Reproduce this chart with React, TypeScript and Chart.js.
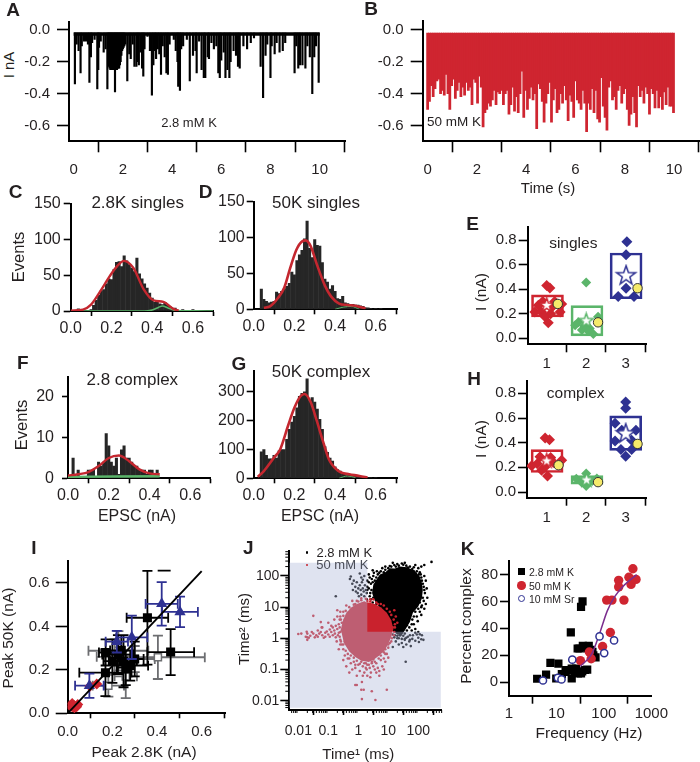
import React, { useEffect, useRef } from "react";
import { Chart, registerables } from "chart.js";

Chart.register(...registerables);

const FONT = "'Liberation Sans', Arial, sans-serif";
const INK = "#231f20";
const RED = "#cf2530";
const CURVE = "#c4272f";
const GREEN = "#5bb56a";
const BLUE = "#2e3192";
const GRAY = "#6d6e71";
const YELLOW = "#f6ea6a";

// ---------- A / B traces ----------
const traceTicksX = [0, 2, 4, 6, 8, 10];
const traceTicksY = [0, -0.2, -0.4, -0.6];
const lowKTimes = [0.05,0.12,0.2,0.28,0.33,0.42,0.5,0.58,0.64,0.7,0.75,0.85,0.96,1.0,1.03,1.1,1.22,1.3,1.37,1.4,1.43,1.46,1.49,1.52,1.55,1.58,1.61,1.64,1.68,1.7,1.73,1.76,1.79,1.82,1.85,1.88,1.91,1.94,1.97,2.0,2.03,2.06,2.1,2.18,2.26,2.32,2.4,2.47,2.55,2.6,2.65,2.72,2.78,2.83,2.88,3.0,3.1,3.18,3.24,3.3,3.35,3.42,3.48,3.55,3.62,3.7,3.77,3.83,3.9,4.0,4.07,4.15,4.22,4.25,4.32,4.37,4.45,4.6,4.72,4.85,4.95,5.0,5.1,5.2,5.29,5.35,5.45,5.5,5.6,5.7,5.8,5.88,5.94,6.0,6.1,6.17,6.25,6.33,6.38,6.5,6.6,6.68,6.75,6.9,7.05,7.2,7.33,7.6,7.7,7.8,7.87,8.0,8.05,8.17,8.25,8.37,8.5,8.6,8.98,9.05,9.13,9.2,9.3,9.42,9.5,9.6,9.7,9.78,9.85,9.96];
const lowKAmps = [-0.34,-0.09,-0.13,-0.27,-0.1,-0.07,-0.07,-0.09,-0.33,-0.17,-0.08,-0.06,-0.37,-0.25,-0.11,-0.07,-0.14,-0.12,-0.37,-0.2,-0.23,-0.24,-0.25,-0.25,-0.25,-0.25,-0.25,-0.25,-0.39,-0.25,-0.25,-0.25,-0.24,-0.24,-0.24,-0.22,-0.2,-0.16,-0.13,-0.12,-0.11,-0.1,-0.09,-0.32,-0.15,-0.18,-0.09,-0.23,-0.23,-0.2,-0.22,-0.14,-0.24,-0.29,-0.12,-0.04,-0.13,-0.41,-0.22,-0.13,-0.18,-0.12,-0.15,-0.28,-0.1,-0.17,-0.27,-0.28,-0.09,-0.03,-0.06,-0.13,-0.2,-0.355,-0.38,-0.12,-0.1,-0.06,-0.32,-0.16,-0.13,-0.27,-0.07,-0.25,-0.3,-0.3,-0.17,-0.18,-0.08,-0.12,-0.1,-0.27,-0.3,-0.19,-0.14,-0.3,-0.25,-0.3,-0.2,-0.13,-0.16,-0.23,-0.24,-0.1,-0.12,-0.08,-0.05,-0.23,-0.425,-0.16,-0.09,-0.3,-0.1,-0.15,-0.08,-0.14,-0.13,-0.08,-0.27,-0.1,-0.24,-0.22,-0.22,-0.24,-0.1,-0.17,-0.4,-0.17,-0.1,-0.33];
const HIGH_K_STEP = 0.075;
const highKAmps = [
  -0.5,-0.45,-0.35,-0.42,-0.37,-0.32,-0.31,-0.4,-0.38,-0.41,
  -0.28,-0.4,-0.5,-0.35,-0.31,-0.43,-0.38,-0.33,-0.42,-0.36,
  -0.41,-0.33,-0.38,-0.36,-0.47,-0.31,-0.33,-0.46,-0.29,-0.36,
  -0.61,-0.52,-0.5,-0.46,-0.48,-0.44,-0.38,-0.47,-0.39,-0.4,
  -0.38,-0.47,-0.4,-0.38,-0.53,-0.47,-0.36,-0.51,-0.42,-0.52,
  -0.4,-0.26,-0.55,-0.38,-0.5,-0.43,-0.36,-0.44,-0.4,-0.62,
  -0.34,-0.37,-0.45,-0.58,-0.46,-0.4,-0.33,-0.58,-0.44,-0.37,
  -0.52,-0.5,-0.4,-0.46,-0.35,-0.44,-0.57,-0.41,-0.45,-0.55,
  -0.32,-0.44,-0.46,-0.5,-0.38,-0.46,-0.64,-0.46,-0.5,-0.37,
  -0.52,-0.38,-0.56,-0.58,-0.3,-0.48,-0.55,-0.63,-0.36,-0.32,
  -0.44,-0.42,-0.5,-0.38,-0.35,-0.46,-0.4,-0.37,-0.5,-0.6,
  -0.53,-0.42,-0.52,-0.61,-0.35,-0.42,-0.38,-0.46,-0.36,-0.4,
  -0.53,-0.37,-0.4,-0.49,-0.38,-0.49,-0.42,-0.5,-0.39,-0.47,
  -0.36,-0.48,-0.48,-0.52,
];

// ---------- C D F G histograms ----------
const HIST_STEP = 0.0125;
const histTicksX = [0, 0.2, 0.4, 0.6];
const histC = [0,0,1,3,2,1,0,1,2,8,15,22,28,30,38,45,44,58,68,69,62,77,70,65,60,55,74,52,45,38,32,25,18,12,14,10,9,12,8,6,3,4,1,1,2,0,1,0,2,0,1];
const curveCx = [0,0.06,0.1,0.144,0.19,0.226,0.262,0.308,0.357,0.406,0.455,0.504,0.53];
const curveCy = [0.5,2,9,27,48,62,70,60,31,15,12.7,3,0.5];
const greenCx = [0,0.36,0.4,0.43,0.45,0.48,0.52,0.6,0.7];
const greenCy = [0,0,1.5,5,7,4,0.5,0.2,0];
const histD = [0,0,0,28,14,11,9,10,11,24,22,25,28,32,36,52,48,68,76,82,98,123,85,72,97,89,88,65,42,38,28,33,25,15,14,18,9,8,7,7,6,6,5,4,2,2,1,0,1,0,1];
const curveDx = [0.05,0.08,0.12,0.15,0.18,0.21,0.24,0.255,0.28,0.31,0.35,0.38,0.42,0.46,0.5,0.55];
const curveDy = [2,4,16,30,58,83,95,96,88,63,33,18,8,6,5,1];
const greenDx = [0.4,0.44,0.48,0.52];
const greenDy = [0,3,4,0];
const histF = [0,0,5,0,2,0,0,0,2,2,2,0,4,3,4,11,8,4,3,5,1,7,8,5,5,4,3,3,2,2,2,1,2,2,1,2,0];
const curveFx = [0,0.05,0.1,0.15,0.2,0.25,0.3,0.35,0.4,0.45];
const curveFy = [0.7,1,1.5,3,5,5.6,4.2,2.2,1.2,1];
const greenFx = [0,0.45];
const greenFy = [0.35,0.5];
const histG = [0,0,0,92,100,80,68,68,80,70,95,100,100,135,170,195,215,245,285,295,300,345,270,280,265,240,205,170,110,90,70,60,40,30,25,18,15,14,12,10,9,8,6,4,3,2,2,0,1];
const curveGx = [0.02,0.05,0.1,0.13,0.17,0.2,0.23,0.25,0.28,0.31,0.34,0.37,0.4,0.43,0.47,0.52,0.56];
const curveGy = [5,25,72,100,185,245,285,293,265,200,130,65,35,20,14,8,2];
const greenGx = [0.42,0.46,0.5];
const greenGy = [0,8,3];

// ---------- E H groups ----------
type XY = { x: number; y: number };
const groupTicksX = [1, 2, 3];
const groupTicksY = [0, 0.2, 0.4, 0.6, 0.8];
const singlesRedX = [1,1.08,0.7,0.79,0.87,0.96,1.04,1.34,1.38,1.15,1.2,0.9,1.1];
const singlesRedY = [0.43,0.41,0.215,0.27,0.215,0.175,0.126,0.215,0.28,0.26,0.3,0.3,0.2];
const singlesGreenX = [2,1.72,1.89,2.09,2.18,2.3,1.95,2.05,1.8];
const singlesGreenY = [0.454,0.107,0.067,0.08,0.035,0.175,0.1,0.06,0.13];
const singlesBlueX = [3.03,3.01,3.01,2.81,3.21];
const singlesBlueY = [0.787,0.68,0.408,0.34,0.34];
const singlesBoxes = [[1.02,0.175,0.354],[2.02,0.02,0.266],[3.01,0.322,0.695]];
const singlesStars = [[1,0.268],[2,0.142],[3.01,0.51]];
const singlesYellow = [[1.28,0.28],[2.3,0.13],[3.3,0.408]];
const complexRedX = [0.96,1.07,0.62,0.76,0.83,0.87,1.02,1.17,1.38,1.3,0.95,1.1];
const complexRedY = [0.437,0.424,0.212,0.23,0.285,0.177,0.129,0.24,0.258,0.22,0.2,0.28];
const complexGreenX = [1.75,2,2.27,1.88,2,2.15];
const complexGreenY = [0.107,0.048,0.11,0.08,0.15,0.09];
const complexBlueX = [3,3,2.73,3.26,2.73,3.15,2.88,3.15,3,2.9];
const complexBlueY = [0.73,0.68,0.558,0.5,0.413,0.42,0.344,0.344,0.29,0.5];
const complexBoxes = [[1.01,0.158,0.344],[2.02,0.064,0.134],[3,0.338,0.617]];
const complexStars = [[1,0.252],[2.01,0.097],[3,0.472]];
const complexYellow = [[1.3,0.217],[2.3,0.08],[3.3,0.39]];

// ---------- I ----------
const peakTicks = [0, 0.2, 0.4, 0.6];
const unityX = [0, 0.6];
const unityY = [0, 0.655];
const blackPeaks = [[0.357,0.44,0.093,0.216],[0.461,0.282,0.105,0.106],[0.169,0.187,0.117,0.108],[0.225,0.27,0.07,0.09],[0.25,0.24,0.06,0.12],[0.28,0.22,0.08,0.07],[0.24,0.29,0.05,0.07],[0.26,0.21,0.04,0.08],[0.17,0.28,0.03,0.06],[0.3,0.25,0.04,0.08],[0.2,0.24,0.04,0.1]];
const grayPeaks = [[0.404,0.258,0.21,0.1],[0.227,0.288,0.134,0.09],[0.182,0.127,0.07,0.05],[0.26,0.17,0.05,0.1],[0.21,0.26,0.08,0.08],[0.3,0.25,0.09,0.06]];
const bluePeaks = [[0.421,0.504,0.072,0.1],[0.503,0.467,0.08,0.07],[0.287,0.35,0.07,0.1],[0.097,0.127,0.064,0.056],[0.22,0.33,0.05,0.05]];
const redPeaksX = [0.01,0.02,0.03,0.04,0.045,0.02,0.1,0.13,0.03];
const redPeaksY = [0.035,0.03,0.035,0.03,0.04,0.045,0.124,0.135,0.025];
const strayCapX = [0.403, 0.461];
const strayCapY = [0.657, 0.657];

// ---------- J (values as log10 of ms) ----------
const logTicks = [0.01, 0.1, 1, 10, 100];
const shadeLog = [[-2.3,-2.23],[2.75,-2.23],[2.75,0.21],[0.3,0.21],[0.3,2.42],[-2.3,2.42]];
const blackCoreLog = [[1.39,2.3],[1.22,2.24],[1.05,2.25],[0.9,2.12],[0.72,2.05],[0.58,1.85],[0.5,1.72],[0.46,1.45],[0.55,1.2],[0.66,1.05],[0.8,0.8],[0.95,0.55],[1.05,0.38],[1.18,0.2],[1.3,0.12],[1.45,0.1],[1.58,0.3],[1.72,0.52],[1.82,0.82],[2.0,1.02],[2.12,1.28],[2.15,1.55],[2.12,1.78],[2.04,2.0],[1.85,2.18],[1.62,2.28]];
const redCoreLog = [[-0.58,0.28],[-0.52,0.55],[-0.42,0.78],[-0.25,0.98],[-0.05,1.1],[0.15,1.17],[0.35,1.15],[0.55,1.1],[0.75,1.0],[0.95,0.82],[1.1,0.58],[1.17,0.3],[1.1,0.05],[1.0,-0.18],[0.88,-0.38],[0.7,-0.55],[0.52,-0.68],[0.35,-0.76],[0.1,-0.72],[-0.1,-0.6],[-0.3,-0.42],[-0.48,-0.15]];
const blackFringeLog = [[0.9,2.2],[1.0,2.25],[1.1,2.3],[1.2,2.35],[1.3,2.38],[1.45,2.4],[1.5,2.36],[1.6,2.33],[1.72,2.3],[1.85,2.28],[2.0,2.25],[2.1,2.3],[2.2,2.35],[2.44,2.45],[0.85,2.12],[0.7,2.1],[0.62,2.15],[0.8,2.25],[1.95,2.15],[2.08,2.05],[2.2,2.0],[2.25,1.85],[2.15,1.75],[2.28,1.6],[2.22,1.45],[2.3,1.3],[2.18,1.2],[2.25,1.1],[2.12,1.05],[2.2,0.95],[2.05,0.85],[2.1,0.75],[1.95,0.7],[1.98,0.55],[1.85,0.45],[1.9,0.3],[1.78,0.25],[1.72,0.1],[1.82,0.1],[2.05,0.13],[1.6,0.02],[1.5,0.08],[1.45,-0.02],[1.35,0.0],[1.2,0.03],[1.15,0.12],[1.05,0.25],[0.95,0.42],[0.9,0.6],[0.78,0.72],[0.7,0.95],[0.62,1.0],[0.55,1.02],[0.48,1.15],[0.42,1.25],[0.4,1.45],[0.35,1.6],[0.42,1.75],[0.45,1.9],[0.5,2.0],[0.55,1.85],[-0.28,1.9],[-0.25,1.98],[-0.2,1.75],[-0.15,1.85],[-0.1,1.65],[-0.08,1.5],[-0.02,1.45],[0.0,1.6],[0.05,1.7],[0.08,1.55],[0.1,1.4],[0.12,1.8],[0.15,1.6],[0.18,1.5],[0.2,1.35],[0.22,1.7],[0.25,1.55],[0.28,1.45],[0.3,1.85],[0.3,1.65],[0.28,1.25],[0.05,2.08],[0.1,1.95],[0.2,2.0],[-0.75,1.35],[1.25,-0.1],[1.3,0.0],[1.4,0.1],[1.45,-0.15],[1.5,-0.28],[1.55,-0.05],[1.6,-0.2],[1.65,0.05],[1.7,-0.1],[1.75,-0.25],[1.8,-0.02],[1.9,-0.08],[1.95,0.12],[2.0,0.02],[2.1,-0.03],[2.17,-0.05],[1.58,-0.75],[1.15,-0.28],[1.35,-0.2],
  [0.75,2.15],[0.9,2.3],[1.05,2.32],[1.15,2.42],[1.25,2.3],[1.35,2.33],[1.55,2.42],[1.65,2.27],[1.8,2.22],[1.9,2.35],[2.05,2.12],[1.85,2.15],[0.65,2.05],[0.6,1.95],[0.52,2.1],[0.38,1.95],[0.35,1.8],[0.48,1.8],[0.3,1.55],[0.44,1.55],[0.38,1.35],[0.5,1.3],[0.45,1.05],[0.55,0.92],[0.65,0.85],[0.72,0.75],[0.6,1.1],[0.82,0.6],[0.88,0.48],[0.98,0.33],[1.08,0.18],[1.12,0.28],[1.22,0.1],[1.3,0.08],[1.38,0.1],[1.55,0.15],[1.62,0.25],[1.7,0.35],[1.62,0.42],[1.78,0.45],[1.8,0.6],[1.85,0.7],[1.9,0.85],[2.0,0.95],[2.1,1.0],[2.05,1.15],[2.15,1.3],[2.2,1.55],[2.18,1.65],[2.12,1.85],[2.1,1.95],[2.02,2.05],[1.92,2.08],[1.55,-0.02],[1.72,-0.05],[2.02,-0.12],[2.12,0.1],[2.0,0.2],[1.9,0.18],[-0.05,1.8],[-0.18,1.55],[0.02,1.35],[0.15,1.88],[0.35,2.05],[0.48,2.18]];
const redFringeLog = [[0.0,1.18],[0.1,1.22],[0.2,1.15],[0.3,1.2],[0.4,1.18],[0.5,1.25],[0.65,1.1],[-0.1,1.1],[-0.2,1.2],[-0.5,0.85],[-0.6,0.7],[-0.7,0.9],[-0.45,0.6],[-0.55,0.5],[-0.65,0.45],[-0.75,0.4],[-0.8,0.25],[-0.9,0.2],[-1.0,0.12],[-1.1,0.18],[-1.2,0.1],[-1.3,0.15],[-1.4,0.1],[-1.5,0.15],[-1.6,0.08],[-1.7,0.15],[-1.75,0.05],[-1.65,0.02],[-1.55,0.2],[-1.45,0.03],[-1.35,0.05],[-1.25,0.2],[-1.15,0.02],[-1.05,0.22],[-0.95,0.05],[-0.85,0.1],[-0.75,0.03],[-0.65,0.18],[-0.55,0.25],[-0.9,0.4],[-1.0,0.5],[-1.2,0.35],[-1.25,0.52],[-0.8,0.6],[-0.7,0.7],[-0.72,-0.1],[-0.6,-0.05],[-0.55,-0.2],[-0.5,-0.35],[-0.45,-0.1],[-2.0,0.14],[-1.9,0.15],[-1.7,-0.05],[-1.5,0.72],[-1.72,0.21],[-1.7,0.03],[-1.22,0.35],[1.2,0.9],[1.25,0.7],[1.3,0.5],[1.15,0.35],[1.2,0.2],[1.05,0.1],[1.1,-0.1],[1.0,-0.3],[-0.5,-0.7],[-0.4,-0.9],[-0.35,-0.65],[-0.3,-1.1],[-0.25,-0.8],[-0.2,-1.0],[-0.15,-0.75],[-0.1,-0.95],[-0.05,-1.2],[0,-0.85],[0.05,-1.05],[0.1,-0.75],[0.12,-1.4],[0.15,-0.9],[0.2,-1.1],[0.25,-0.8],[0.28,-1.0],[0.3,-1.2],[0.35,-0.85],[0.38,-0.95],[0.42,-1.1],[0.45,-0.75],[0.5,-0.9],[0.55,-1.0],[0.6,-0.8],[0.65,-0.95],[0.7,-1.05],[0.75,-0.7],[0.8,-0.9],[0.85,-0.65],[0.9,-0.75],[0.95,-0.5],[1.0,-0.62],[0.1,-1.65],[0.18,-1.65],[0.45,-1.7],[0.95,-1.65],[0.12,-1.95],[0.57,-1.98],[-0.05,-1.5],[-0.1,-1.5],[0.4,-1.25],[0.7,-1.2],
  [-0.6,0.2],[-0.62,0.35],[-0.58,0.6],[-0.5,0.72],[-0.42,0.88],[-0.3,1.0],[-0.35,0.82],[-0.15,1.08],[-0.05,1.2],[0.1,1.28],[0.25,1.27],[0.4,1.25],[0.6,1.15],[0.75,1.1],[0.85,1.05],[0.95,0.95],[1.05,0.85],[1.1,0.75],[1.18,0.6],[1.22,0.45],[1.22,0.35],[1.18,0.1],[1.12,0.0],[1.05,-0.15],[1.0,-0.2],[0.9,-0.35],[0.85,-0.45],[0.75,-0.55],[0.68,-0.65],[0.55,-0.75],[0.45,-0.8],[0.3,-0.85],[0.2,-0.8],[0.05,-0.82],[-0.05,-0.72],[-0.15,-0.62],[-0.25,-0.55],[-0.35,-0.5],[-0.42,-0.4],[-0.5,-0.2],[-0.58,-0.1],[-0.62,0.05],[-0.68,0.1],[-0.7,0.3],[-0.6,-0.2],[-0.65,-0.35],[-0.45,-0.55],[-0.3,-0.65],[-0.1,-0.85],[0.5,-0.68],[0.9,-0.5],[0.25,-0.95],[0.6,-1.1],[0.15,-1.2],[0.85,-1.0],[-0.6,0.85],[-0.4,1.05],[-0.95,0.28],[-1.1,0.05],[-1.35,0.25],[-0.78,0.15],[-0.85,0.35],[-0.62,0.6]];

// ---------- K ----------
const freqTicks = [1, 10, 100, 1000];
const pctTicks = [0, 20, 40, 60, 80];
const lowKFreq = [3.92,6.05,7.46,11,9.9,15.6,18.1,21,24.4,28.4,33,44.5,20.1,33,35.5,30.6,38.3,48,57.4,66.7,21,13,16,26,35,40,28,36,45,52,60];
const lowKPct = [2.5,5.6,14.3,13.8,2.7,7.6,8.8,2.7,7.6,6.4,6.4,9.3,37,56,60,25,26,27,22.6,18.4,10,6,9,10,8,9,25,27,25,24,20];
const highKFreq = [32,49.4,54,94,137,114.5,148,265,205,205,337,374,409,476];
const highKPct = [16,22.4,17.4,26.5,36.9,61,61,61,75.7,70.8,78,72.7,84.3,76.4];
const srFreq = [5.2,10.7,12.8,21.6,81,101.6,164];
const srPct = [1.2,3.2,2,16.7,34,21.6,31];
const fitFreq = [32,55.7,81,118,172,250,490];
const fitPct = [11.8,21,36,53,64,71,80];

// ---------- page texts ----------
type Label = { t: string; x: number; y: number; s: number; b?: boolean; r?: boolean; left?: boolean; c?: string };
const panelLetters: Label[] = [
  ["A",13,9],["B",371,8],["C",15.7,190.7],["D",205.7,190.7],["E",472.7,223],["F",22.7,362],["G",239,363],["H",474,377.7],["I",34,546.7],["J",248.3,547.3],["K",467.7,548.3],
].map(([t,x,y]) => ({ t: t as string, x: x as number, y: y as number, s: 19, b: true }));
const texts: Label[] = [
  { t: "I nA", x: 8, y: 65, s: 15, r: true },
  { t: "2.8 mM K", x: 189, y: 122, s: 13 },
  { t: "50 mM K", x: 454, y: 122, s: 13.5 },
  { t: "Time (s)", x: 548, y: 187, s: 15 },
  { t: "Events", x: 18, y: 256.7, s: 16.5, r: true },
  { t: "2.8K singles", x: 137.7, y: 201.7, s: 17 },
  { t: "50K singles", x: 316, y: 201.7, s: 17 },
  { t: "singles", x: 573.3, y: 243.3, s: 15.5 },
  { t: "I (nA)", x: 480.7, y: 291.7, s: 15.5, r: true },
  { t: "Events", x: 20.7, y: 425, s: 16.5, r: true },
  { t: "2.8 complex", x: 132.3, y: 379.3, s: 17 },
  { t: "50K complex", x: 321, y: 370.7, s: 17 },
  { t: "EPSC (nA)", x: 137, y: 516, s: 16 },
  { t: "EPSC (nA)", x: 320, y: 516, s: 16 },
  { t: "complex", x: 575.7, y: 392.7, s: 15.5 },
  { t: "I (nA)", x: 480.7, y: 439, s: 15.5, r: true },
  { t: "Peak 50K (nA)", x: 8, y: 637.5, s: 15.5, r: true },
  { t: "Peak 2.8K (nA)", x: 144, y: 751.7, s: 15.5 },
  { t: "Time\u00b2 (ms)", x: 243.3, y: 629, s: 15, r: true },
  { t: "Time\u00b9 (ms)", x: 358.3, y: 752.7, s: 15 },
  { t: "2.8 mM K", x: 344.3, y: 552, s: 13 },
  { t: "50 mM K", x: 342.3, y: 564, s: 13, c: "#4a4d57" },
  { t: "Percent complex", x: 466, y: 626, s: 15.5, r: true },
  { t: "Frequency (Hz)", x: 589, y: 733.3, s: 15.5 },
  { t: "2.8 mM K", x: 529, y: 571.7, s: 10.5, left: true },
  { t: "50 mM K", x: 529, y: 585.7, s: 10.5, left: true },
  { t: "10 mM Sr", x: 529, y: 599, s: 10.5, left: true },
];

// ---------- helpers ----------
const zip = (xs: number[], ys: number[]): XY[] => xs.map((x, i) => ({ x, y: ys[i] }));
const fromLog = (pts: number[][]): XY[] => pts.map(([a, b]) => ({ x: 10 ** a, y: 10 ** b }));

function errorPaths(rows: number[][], cap: number): XY[] {
  const out: XY[] = [];
  const gap = { x: NaN, y: NaN };
  for (const [x, y, ex, ey] of rows) {
    out.push({ x: x - ex, y }, { x: x + ex, y }, gap);
    out.push({ x, y: y - ey }, { x, y: y + ey }, gap);
    out.push({ x: x - ex, y: y - cap }, { x: x - ex, y: y + cap }, gap);
    out.push({ x: x + ex, y: y - cap }, { x: x + ex, y: y + cap }, gap);
    out.push({ x: x - cap, y: y + ey }, { x: x + cap, y: y + ey }, gap);
    out.push({ x: x - cap, y: y - ey }, { x: x + cap, y: y - ey }, gap);
  }
  return out;
}

function makeStar(size: number, stroke: string): HTMLCanvasElement {
  const c = document.createElement("canvas");
  c.width = c.height = size + 4;
  const g = c.getContext("2d")!;
  const m = c.width / 2;
  g.beginPath();
  for (let i = 0; i < 10; i++) {
    const r = i % 2 ? size * 0.2 : size / 2;
    const a = -Math.PI / 2 + (i * Math.PI) / 5;
    g.lineTo(m + r * Math.cos(a), m + r * Math.sin(a));
  }
  g.closePath();
  g.fillStyle = "#fff";
  g.fill();
  g.strokeStyle = stroke;
  g.lineWidth = 1.5;
  g.stroke();
  return c;
}

type AxisSpec = {
  type?: string; min: number; max: number; ticks: number[]; fmt: (v: number) => string;
  len: number; pad: number; size: number;
};
type Frame = { x: number; right: number; top: number; bottom: number };

function build(canvas: HTMLCanvasElement, frame: Frame, xa: AxisSpec, ya: AxisSpec, datasets: any[], plugins: any[] = []) {
  const cl = Math.max(0, Math.floor(frame.x - 50));
  const ct = Math.floor(frame.top - 10);
  const cr = Math.min(700, Math.ceil(frame.right + 6));
  const cb = Math.ceil(frame.bottom + 44);
  canvas.width = cr - cl;
  canvas.height = cb - ct;
  canvas.style.cssText = `position:absolute;left:${cl}px;top:${ct}px;width:${cr - cl}px;height:${cb - ct}px;display:block`;
  const axis = (a: AxisSpec, fixed: (s: any) => void) => ({
    type: a.type ?? "linear",
    min: a.min,
    max: a.max,
    offset: false,
    border: { display: true, color: "#000", width: 2 },
    grid: { drawOnChartArea: false, drawTicks: true, tickLength: a.len, tickColor: "#000", tickWidth: 1.6 },
    ticks: {
      autoSkip: false, maxRotation: 0, minRotation: 0, padding: a.pad, color: INK,
      font: { family: FONT, size: a.size }, callback: (v: any) => a.fmt(Number(v)),
    },
    afterBuildTicks: (s: any) => { s.ticks = a.ticks.map((value) => ({ value })); },
    afterFit: fixed,
  });
  return new Chart(canvas, {
    type: "bar",
    data: { datasets },
    plugins,
    options: {
      responsive: false, animation: false, devicePixelRatio: 1, events: [],
      layout: { autoPadding: false, padding: { left: 0, right: cr - frame.right, top: frame.top - ct, bottom: 0 } },
      plugins: { legend: { display: false }, tooltip: { enabled: false }, title: { display: false } },
      scales: {
        x: axis(xa, (s) => { s.height = cb - frame.bottom; }),
        y: axis(ya, (s) => { s.width = frame.x - cl; }),
      },
    },
  } as any);
}

const curve = (data: XY[], color: string, width: number, order: number) => ({
  type: "line", data, borderColor: color, borderWidth: width, pointRadius: 0, tension: 0.4, fill: false, order,
  cubicInterpolationMode: "monotone",
});
const path = (data: XY[], color: string, width: number, order: number) => ({
  type: "line", data, borderColor: color, borderWidth: width, pointRadius: 0, tension: 0, fill: false, spanGaps: false, order,
});
const marks = (data: XY[], style: any, r: number, fillC: string, strokeC: string, bw: number, order: number) => ({
  type: "scatter", data, pointStyle: style, pointRadius: r, backgroundColor: fillC, pointBackgroundColor: fillC,
  pointBorderColor: strokeC, pointBorderWidth: bw, showLine: false, order,
});

const f0 = (v: number) => String(v);
const f1 = (v: number) => v.toFixed(1);

function histDatasets(values: number[], cx: number[], cy: number[], gx: number[], gy: number[], redW: number, greenW: number) {
  return [
    { type: "bar", data: values.map((y, i) => ({ x: i * HIST_STEP, y })), backgroundColor: "#262626", barThickness: 2.4, order: 3 },
    curve(zip(gx, gy), GREEN, greenW, 2),
    curve(zip(cx, cy), CURVE, redW, 1),
  ];
}

function groupDatasets(rx: number[], ry: number[], gx: number[], gy: number[], bx: number[], by: number[], boxes: number[][], stars: number[][], yellow: number[][]) {
  const starR = makeStar(15, RED), starG = makeStar(15, GREEN), starB = makeStar(20, BLUE);
  const starDs = (i: number, img: HTMLCanvasElement) => marks([{ x: stars[i][0], y: stars[i][1] }], img, 8, "#fff", "#fff", 0, 2);
  return [
    { type: "bar", data: boxes.map(([x, a, b]) => ({ x, y: [a, b] })), backgroundColor: "rgba(0,0,0,0)", borderColor: [RED, GREEN, BLUE], borderWidth: 2, borderSkipped: false, barThickness: 32, order: 4 },
    marks(zip(rx, ry), "rectRot", 5.5, RED, RED, 0, 3),
    marks(zip(gx, gy), "rectRot", 5, GREEN, GREEN, 0, 3),
    marks(zip(bx, by), "rectRot", 5.5, BLUE, BLUE, 0, 3),
    starDs(0, starR), starDs(1, starG), starDs(2, starB),
    marks(yellow.map(([x, y]) => ({ x, y })), "circle", 4.7, YELLOW, "#333", 1, 1),
  ];
}

function polygon(chart: any, pts: number[][], fill: string) {
  const { ctx, scales: { x, y } } = chart;
  ctx.save();
  ctx.beginPath();
  pts.forEach(([a, b]) => ctx.lineTo(x.getPixelForValue(10 ** a), y.getPixelForValue(10 ** b)));
  ctx.closePath();
  ctx.fillStyle = fill;
  ctx.fill();
  ctx.restore();
}

const minorValues = [0.01, 0.1, 1, 10, 100].flatMap((d) => [2, 3, 4, 5, 6, 7, 8, 9].map((m) => m * d)).concat([0.005, 0.006, 0.007, 0.008, 0.009]);
const minorTicksPlugin = {
  id: "minorTicks",
  afterDraw(chart: any) {
    const { ctx, scales: { x, y }, chartArea: a } = chart;
    ctx.save();
    ctx.strokeStyle = "#000";
    ctx.lineWidth = 1;
    ctx.beginPath();
    minorValues.forEach((v) => {
      if (v >= x.min && v <= x.max) { const p = x.getPixelForValue(v); ctx.moveTo(p, a.bottom); ctx.lineTo(p, a.bottom + 3); }
      if (v >= y.min && v <= y.max) { const p = y.getPixelForValue(v); ctx.moveTo(a.left, p); ctx.lineTo(a.left - 4, p); }
    });
    ctx.stroke();
    ctx.restore();
  },
};
const cloudPlugin = {
  id: "clouds",
  beforeDatasetDraw(chart: any, args: any) {
    if (args.index === 0) polygon(chart, blackCoreLog, "#000");
    if (args.index === 1) polygon(chart, redCoreLog, "#c9222d");
  },
  afterDatasetsDraw(chart: any) {
    polygon(chart, shadeLog, "rgba(175,185,217,0.4)");
  },
};

export default function App() {
  const refs = useRef<(HTMLCanvasElement | null)[]>([]);
  useEffect(() => {
    document.body.style.margin = "0";
    const c = refs.current as HTMLCanvasElement[];
    const traceY = (top: number): AxisSpec => ({ min: -0.7, max: top, ticks: traceTicksY, fmt: f1, len: 12, pad: 7, size: 15 });
    const histX = (max: number, pad: number): AxisSpec => ({ min: 0, max, ticks: histTicksX, fmt: f1, len: 5, pad, size: 16 });
    const groupX = (min: number): AxisSpec => ({ min, max: 3.514, ticks: groupTicksX, fmt: f0, len: 8, pad: 3, size: 15 });
    const charts = [
      build(c[0], { x: 69, right: 345, top: 16, bottom: 141.3 },
        { min: -0.19, max: 11.03, ticks: traceTicksX, fmt: f0, len: 11, pad: 9, size: 15 }, traceY(0.05),
        [
          { type: "bar", data: lowKTimes.map((x, i) => ({ x, y: [-0.02, lowKAmps[i]] })), backgroundColor: "#000", barThickness: 1.5, order: 2 },
          path(zip([0, 10], [-0.025, -0.025]), "#000", 3.4, 1),
        ]),
      build(c[1], { x: 422.7, right: 700, top: 15, bottom: 141.3 },
        { min: -0.2, max: 11.05, ticks: traceTicksX, fmt: f0, len: 11, pad: 9, size: 15 }, traceY(0.056),
        [{ type: "bar", data: highKAmps.map((a, i) => ({ x: i * HIGH_K_STEP, y: [-0.02, a] })), backgroundColor: RED, barThickness: 2.1 }]),
      build(c[2], { x: 70.7, right: 213.3, top: 201.7, bottom: 311 }, histX(0.7, 3),
        { min: 0, max: 150, ticks: [0, 50, 100, 150], fmt: f0, len: 7, pad: 3, size: 16 },
        histDatasets(histC, curveCx, curveCy, greenCx, greenCy, 2.4, 1.6)),
      build(c[3], { x: 253.7, right: 397.3, top: 200, bottom: 309.3 }, histX(0.706, 3),
        { min: 0, max: 150, ticks: [0, 50, 100, 150], fmt: f0, len: 7, pad: 2, size: 16 },
        histDatasets(histD, curveDx, curveDy, greenDx, greenDy, 2.6, 1)),
      build(c[4], { x: 68, right: 210.7, top: 369, bottom: 478.3 }, histX(0.7, 3),
        { min: 0, max: 25, ticks: [0, 10, 20], fmt: f0, len: 6, pad: 8, size: 16 },
        histDatasets(histF, curveFx, curveFy, greenFx, greenFy, 2.4, 2.4)),
      build(c[5], { x: 253.7, right: 397.3, top: 369, bottom: 478.3 }, histX(0.706, 3),
        { min: 0, max: 374, ticks: [0, 100, 200, 300], fmt: f0, len: 7, pad: 2, size: 16 },
        histDatasets(histG, curveGx, curveGy, greenGx, greenGy, 2.6, 1)),
      build(c[6], { x: 527.7, right: 646, top: 226.7, bottom: 344.3 }, groupX(0.519),
        { min: -0.049, max: 0.907, ticks: groupTicksY, fmt: f1, len: 9, pad: 2, size: 15 },
        groupDatasets(singlesRedX, singlesRedY, singlesGreenX, singlesGreenY, singlesBlueX, singlesBlueY, singlesBoxes, singlesStars, singlesYellow)),
      build(c[7], { x: 527, right: 646, top: 380, bottom: 497.7 }, groupX(0.501),
        { min: -0.046, max: 0.9, ticks: groupTicksY, fmt: f1, len: 9, pad: 2, size: 15 },
        groupDatasets(complexRedX, complexRedY, complexGreenX, complexGreenY, complexBlueX, complexBlueY, complexBoxes, complexStars, complexYellow)),
      build(c[8], { x: 67.7, right: 225.7, top: 556.7, bottom: 713.3 },
        { min: 0, max: 0.7076, ticks: peakTicks, fmt: f1, len: 5, pad: 5, size: 15 },
        { min: 0, max: 0.7013, ticks: peakTicks, fmt: f1, len: 12, pad: 6, size: 15 },
        [
          path(errorPaths(grayPeaks, 0.0225), GRAY, 1.8, 7),
          marks(grayPeaks.map(([x, y]) => ({ x, y })), "rect", 5, "#fff", GRAY, 1.5, 6),
          path(errorPaths(blackPeaks, 0.0225), "#000", 1.8, 5),
          marks(blackPeaks.map(([x, y]) => ({ x, y })), "rect", 6.4, "#000", "#000", 0, 4),
          path(errorPaths(bluePeaks, 0.0225), BLUE, 1.8, 3),
          marks(bluePeaks.map(([x, y]) => ({ x, y })), "triangle", 6.5, BLUE, BLUE, 0, 2),
          marks(zip(redPeaksX, redPeaksY), "rectRot", 5.5, RED, RED, 0, 2),
          path(zip(unityX, unityY), "#000", 1.9, 1),
          path(zip(strayCapX, strayCapY), "#000", 1.9, 1),
        ]),
      build(c[9], { x: 289.3, right: 441.7, top: 550.7, bottom: 710 },
        { type: "logarithmic", min: 10 ** -2.3, max: 10 ** 2.78, ticks: logTicks, fmt: (v) => String(v), len: 5, pad: 8, size: 14 },
        { type: "logarithmic", min: 10 ** -2.3, max: 10 ** 2.81, ticks: logTicks, fmt: (v) => String(v), len: 9, pad: 1, size: 14 },
        [
          marks(fromLog(blackFringeLog), "circle", 1.3, "#000", "#000", 0, 2),
          marks(fromLog(redFringeLog), "circle", 1.3, "#c9222d", "#c9222d", 0, 1),
        ], [cloudPlugin, minorTicksPlugin]),
      build(c[10], { x: 509, right: 662.3, top: 560, bottom: 695.7 },
        { type: "logarithmic", min: 1, max: 1000, ticks: freqTicks, fmt: (v) => String(v), len: 8, pad: 1, size: 15 },
        { min: -10.1, max: 90.1, ticks: pctTicks, fmt: f0, len: 9, pad: 2, size: 15 },
        [
          marks(zip(lowKFreq, lowKPct), "rect", 5.8, "#000", "#000", 0, 4),
          marks(zip(highKFreq, highKPct), "circle", 4.7, RED, RED, 0, 3),
          curve(zip(fitFreq, fitPct), "#7b2d8e", 1.5, 2),
          marks(zip(srFreq, srPct), "circle", 3.6, "#fff", BLUE, 1.5, 1),
        ]),
    ];
    return () => charts.forEach((ch) => ch.destroy());
  }, []);

  const box = (x: number, y: number, d: number, style: React.CSSProperties, key: string) => (
    <div key={key} style={{ position: "absolute", left: x - d / 2, top: y - d / 2, width: d, height: d, boxSizing: "border-box", ...style }} />
  );

  return (
    <div style={{ position: "absolute", left: 0, top: 0, width: 700, height: 762, overflow: "hidden", background: "#fff", fontFamily: FONT, color: INK }}>
      {Array.from({ length: 11 }, (_, i) => (
        <canvas key={i} ref={(el) => { refs.current[i] = el; }} />
      ))}
      {[...panelLetters, ...texts].map((l, i) => (
        <div
          key={i}
          style={{
            position: "absolute", left: l.x, top: l.y, whiteSpace: "nowrap", lineHeight: 1, fontSize: l.s,
            fontWeight: l.b ? 700 : 400, color: l.c ?? INK,
            transform: l.left ? "translateY(-50%)" : `translate(-50%,-50%)${l.r ? " rotate(-90deg)" : ""}`,
          }}
        >
          {l.t}
        </div>
      ))}
      {box(307, 552.5, 2.5, { background: "#000", borderRadius: "50%" }, "j1")}
      {box(307, 565, 2.5, { background: "#c9222d", borderRadius: "50%" }, "j2")}
      {box(521.7, 571.7, 7.5, { background: "#000" }, "k1")}
      {box(521.7, 585.7, 8.5, { background: RED, borderRadius: "50%" }, "k2")}
      {box(521.7, 598, 7, { background: "#fff", border: `1.5px solid ${BLUE}`, borderRadius: "50%" }, "k3")}
    </div>
  );
}
